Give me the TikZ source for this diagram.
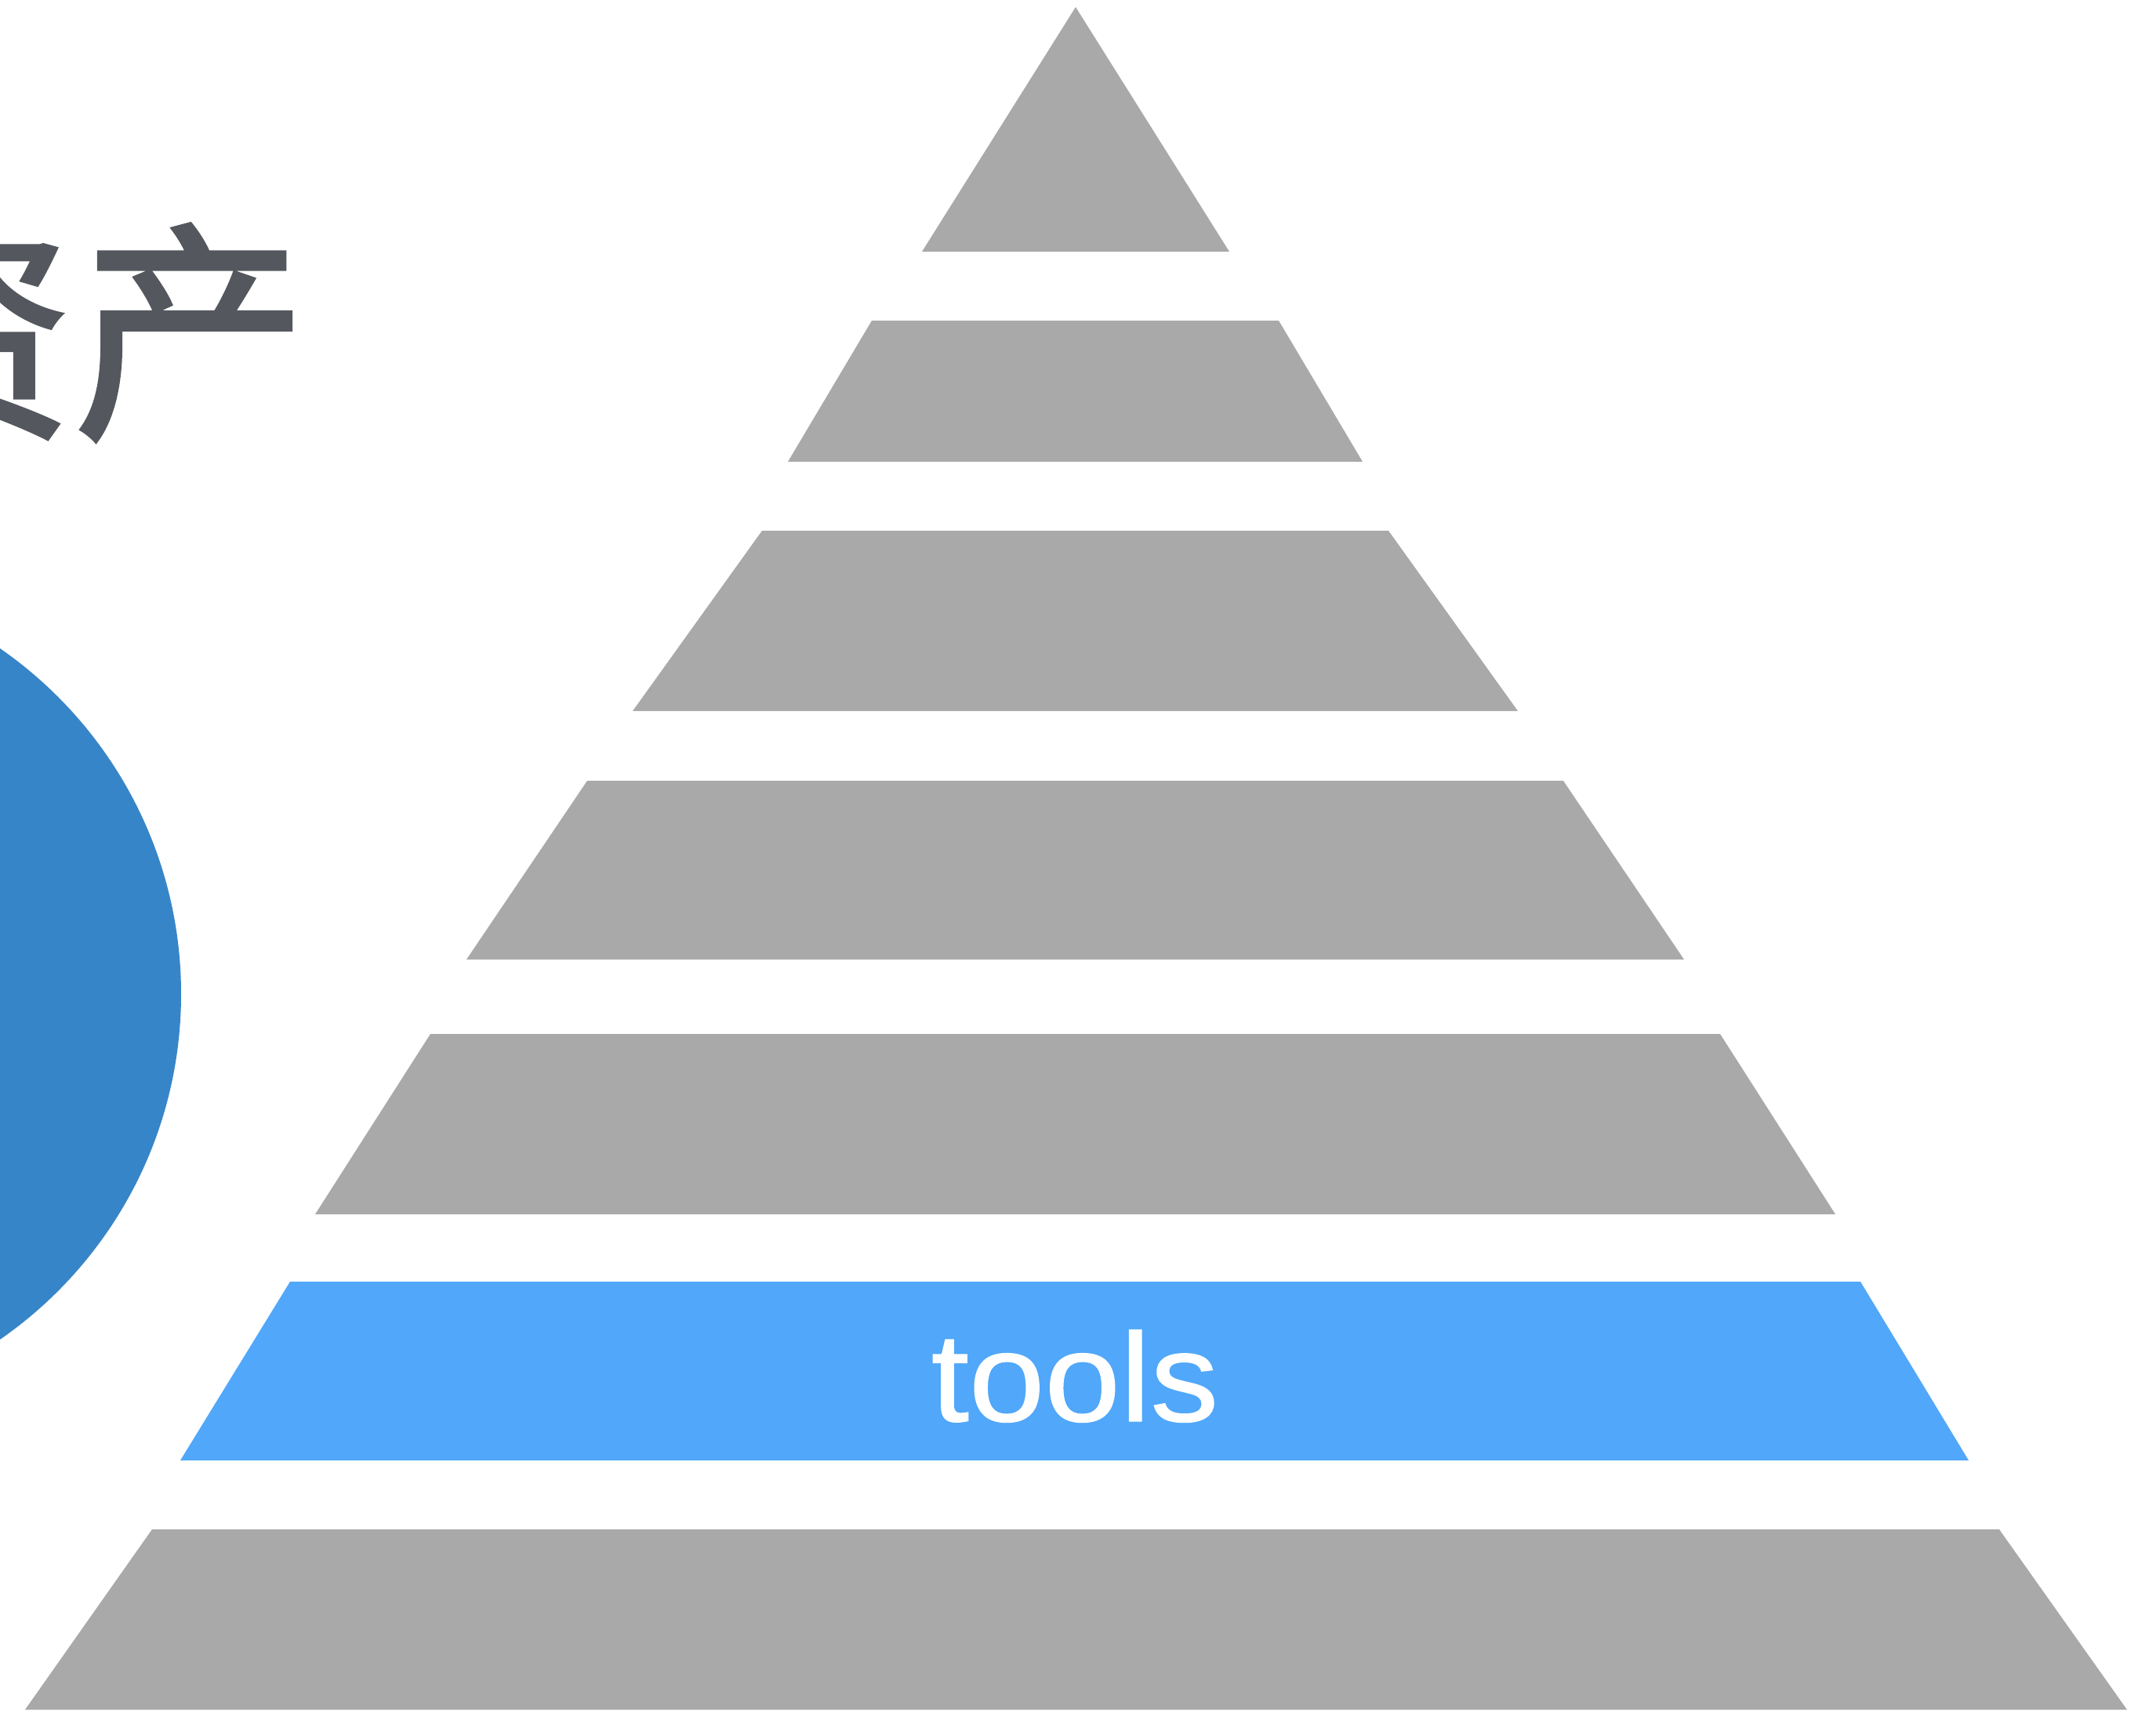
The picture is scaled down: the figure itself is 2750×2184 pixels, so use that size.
\documentclass[tikz,border=0pt]{standalone}
\usepackage{fontspec}
\setmainfont{Liberation Sans}
\newfontfamily\cjk[FakeBold=1.6]{Noto Sans CJK SC}
\newfontfamily\toolsfont[FakeBold=0.8]{Liberation Sans}
\definecolor{layergray}{RGB}{168,169,168}
\definecolor{layerblue}{RGB}{81,167,249}
\definecolor{circleblue}{RGB}{54,133,200}
\definecolor{textgray}{RGB}{84,88,94}
\begin{document}
\begin{tikzpicture}[x=0.01cm,y=-0.01cm,
  layer/.style={fill=layergray},
  hilayer/.style={fill=layerblue}]
\useasboundingbox (0,0) rectangle (2750,2184);
\clip (0,0) rectangle (2750,2184);
% circle
\fill[circleblue] (-305,1268) circle[radius=536];
% title text (partly cut)
\node[anchor=base east,inner sep=0pt,text=textgray,font=\cjk\fontsize{85}{90}\selectfont] (title) at (393,537) {资产};
% pyramid layers
\fill[layer] (1372,9) -- (1568,321) -- (1176,321) -- cycle;
\fill[layer] (1112,409) -- (1631,409) -- (1738,589) -- (1005,589) -- cycle;
\fill[layer] (972,677) -- (1771,677) -- (1936,907) -- (807,907) -- cycle;
\fill[layer] (749,996) -- (1994,996) -- (2148,1224) -- (595,1224) -- cycle;
\fill[layer] (549,1319) -- (2194,1319) -- (2341,1549) -- (402,1549) -- cycle;
\fill[hilayer] (370,1635) -- (2373,1635) -- (2511,1863) -- (230,1863) -- cycle;
\fill[layer] (194,1951) -- (2550,1951) -- (2713,2181) -- (32,2181) -- cycle;
\node[anchor=base,inner sep=0pt,text=white,font=\toolsfont\fontsize{45.7}{50}\selectfont] (tools) at (1371,1813) {\scalebox{1.08}[1]{tools}};
\end{tikzpicture}
\end{document}
